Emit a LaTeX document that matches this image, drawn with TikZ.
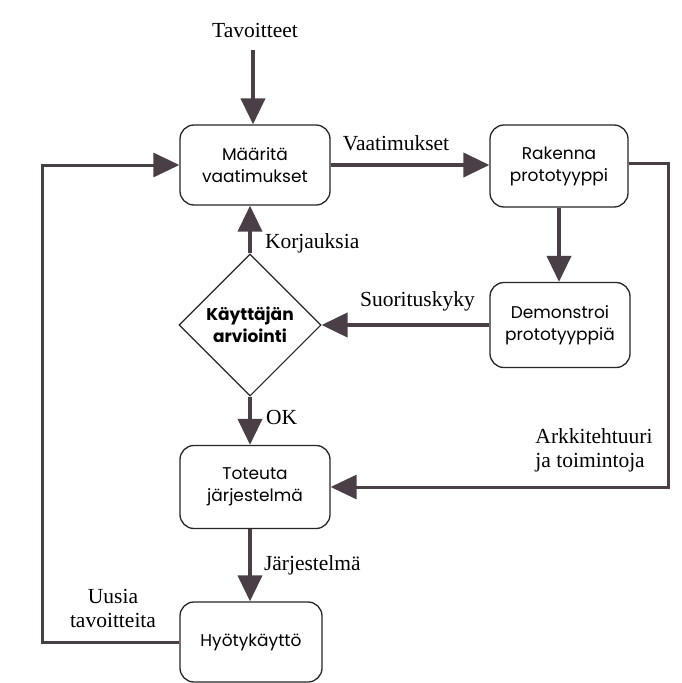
\documentclass[tikz,border=0pt]{standalone}
\usepackage{fontspec}
\setmainfont{Liberation Serif}
\newfontfamily\boxfont{Poppins}
\usetikzlibrary{arrows.meta,shapes.geometric}
\definecolor{ink}{HTML}{4A3F47}
\tikzset{
  stage/.style={draw=black!85, line width=1.3pt, rounded corners=14pt,
    minimum width=150pt, minimum height=80pt, align=center,
    font=\boxfont\fontsize{17}{22}\selectfont, inner sep=0pt},
  decision/.style={draw=black!85, line width=1.1pt, diamond, aspect=1,
    minimum width=142pt, minimum height=142pt, align=center, inner sep=0pt,
    font=\boxfont\bfseries\fontsize{17}{22}\selectfont},
  flow/.style={draw=ink, line width=4pt,
    -{Triangle[length=26pt,width=24pt]}},
  loop/.style={draw=ink, line width=3pt,
    -{Triangle[length=26pt,width=24pt]}},
  lbl/.style={font=\fontsize{21.5}{24}\selectfont, align=center, inner sep=0pt}
}
\begin{document}
\begin{tikzpicture}[x=1pt,y=-1pt]
  \useasboundingbox (0,0) rectangle (682,683);
  \fill[white] (0,0) rectangle (682,683);

  % stages of the process
  \node[stage] (define) at (255,165) {Määritä\\vaatimukset};
  \node[stage, minimum width=138pt, minimum height=82pt] (build) at (559,166) {Rakenna\\prototyyppi};
  \node[stage, minimum width=140pt, minimum height=85pt] (demo) at (560,325) {Demonstroi\\prototyyppiä};
  \node[decision] (review) at (250,325) {Käyttäjän\\arviointi};
  \node[stage, minimum height=83pt] (impl) at (255,487) {Toteuta\\järjestelmä};
  \node[stage, minimum width=142pt, minimum height=80pt] (use) at (251,642) {Hyötykäyttö};

  % free ends and corners of the feedback lines
  \coordinate (goals) at (253,50);
  \coordinate (rtop) at (668,163);
  \coordinate (rbot) at (668,487);
  \coordinate (lbot) at (42,642);
  \coordinate (ltop) at (42,165);

  % connectors
  \node[lbl] (goalstext) at (255,30) {Tavoitteet};
  \draw[flow] (goals) -- (define.north -| goals);
  \draw[flow] (define.east) -- (build.west |- define.east)
    node[lbl, midway, above=12pt, xshift=-14pt] {Vaatimukset};
  \draw[flow] (build.south) -- (demo.north -| build.south);
  \draw[flow] (demo.west) -- (review.east)
    node[lbl, midway, above=12pt, xshift=12pt] {Suorituskyky};
  \draw[flow] (review.north) -- (define.south -| review.north)
    node[lbl, midway, right=13pt, yshift=-14pt] {Korjauksia};
  \draw[flow] (review.south) -- (impl.north -| review.south)
    node[lbl, midway, right=14pt, yshift=3pt] {OK};
  \draw[flow] (impl.south -| review.south) -- (use.north -| review.south)
    node[lbl, midway, right=12pt, yshift=0pt] {Järjestelmä};
  \draw[loop] (build.east |- rtop) -- (rtop) -- (rbot) -- (impl.east);
  \node[lbl, align=left] (archtext) at (594,450) {Arkkitehtuuri\\ja toimintoja};
  \draw[loop] (use.west) -- (lbot) -- (ltop) -- (define.west);
  \node[lbl] (newgoals) at (113,608) {Uusia\\tavoitteita};
\end{tikzpicture}
\end{document}
